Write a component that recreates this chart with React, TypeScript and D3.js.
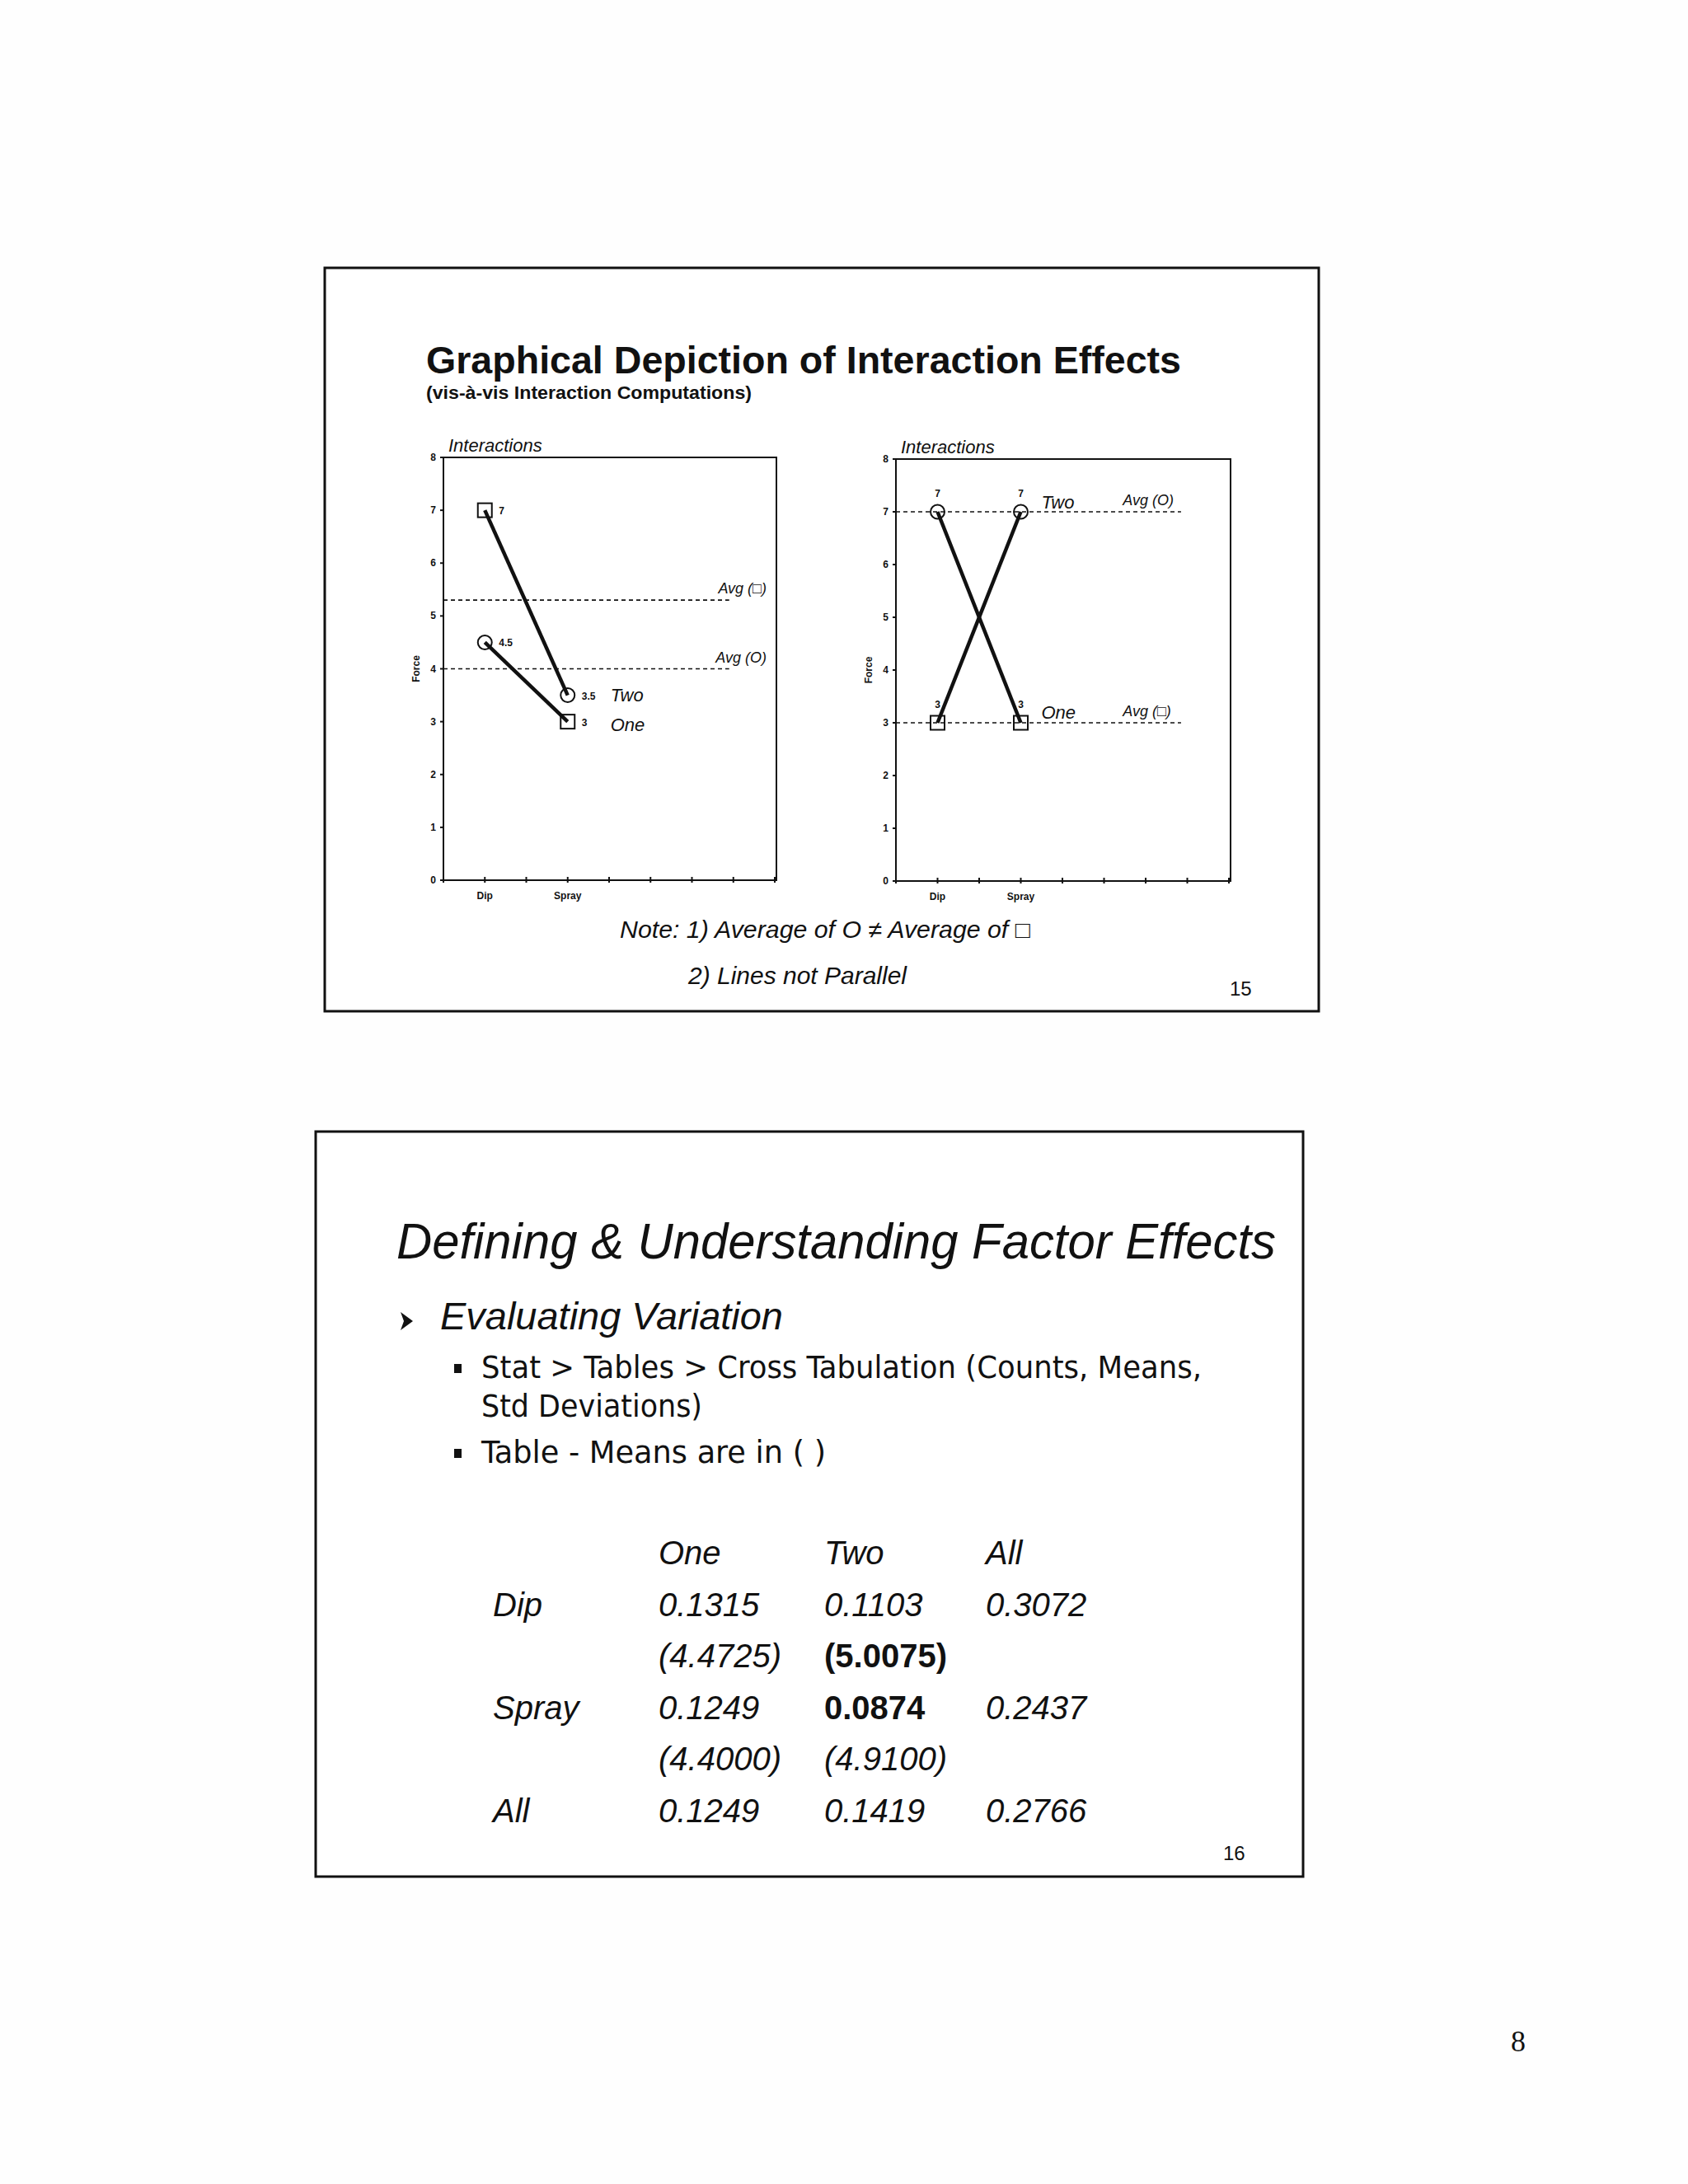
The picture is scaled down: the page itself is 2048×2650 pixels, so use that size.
import React from 'react'
import { scaleLinear, line, range } from 'd3'

const categories = ['Dip', 'Spray']
const yTicks = range(0, 9)
const xSlots = range(0, 9)

type Series = { name: string; values: number[]; shapes: string[] }
type Avg = { label: string; value: number }

// left panel: lines converge
const leftSeries: Series[] = [
  { name: 'Two', values: [7, 3.5], shapes: ['square', 'circle'] },
  { name: 'One', values: [4.5, 3], shapes: ['circle', 'square'] }
]
const leftAvgs: Avg[] = [
  { label: 'Avg (□)', value: 5.3 },
  { label: 'Avg (O)', value: 4.0 }
]

// right panel: crossing lines
const rightSeries: Series[] = [
  { name: 'One', values: [7, 3], shapes: ['circle', 'square'] },
  { name: 'Two', values: [3, 7], shapes: ['square', 'circle'] }
]
const rightAvgs: Avg[] = [
  { label: 'Avg (O)', value: 7 },
  { label: 'Avg (□)', value: 3 }
]

const notes = ['Note: 1) Average of O ≠ Average of □', '2) Lines not Parallel']

const tableCols = ['One', 'Two', 'All']
const tableRows = ['Dip', 'Spray', 'All']
const stdDevs = [
  ['0.1315', '0.1103', '0.3072'],
  ['0.1249', '0.0874', '0.2437'],
  ['0.1249', '0.1419', '0.2766']
]
const means = [
  ['(4.4725)', '(5.0075)'],
  ['(4.4000)', '(4.9100)']
]
const boldCells = ['0.0874', '(5.0075)']

const SANS = 'Liberation Sans, Arial, Helvetica, sans-serif'
const BULLET_FONT = 'DejaVu Sans Condensed, DejaVu Sans, sans-serif'

type ChartCfg = {
  left: number
  right: number
  top: number
  bottom: number
  series: Series[]
  avgs: Avg[]
  labelMode: 'right' | 'above'
  avgEnd: number
  avgLabelX: number
  avgLabelAnchor: 'start' | 'end'
  nameDx: number
  nameDy: number[]
}

const Marker: React.FC<{ shape: string; cx: number; cy: number }> = ({ shape, cx, cy }) =>
  shape === 'square' ? (
    <rect x={cx - 8.5} y={cy - 8.5} width={17} height={17} fill="none" stroke="#111" strokeWidth={2} />
  ) : (
    <circle cx={cx} cy={cy} r={8.5} fill="none" stroke="#111" strokeWidth={2} />
  )

const Chart: React.FC<{ cfg: ChartCfg }> = ({ cfg }) => {
  const x = scaleLinear().domain([0, 8]).range([cfg.left, cfg.right])
  const y = scaleLinear().domain([0, 8]).range([cfg.bottom, cfg.top])
  const slot = (i: number) => x(i * 2 + 1)
  const path = line<number>()
    .x((_, i) => slot(i))
    .y((d) => y(d))

  return (
    <g fontFamily={SANS} fill="#111">
      <text x={cfg.left + 6} y={cfg.top - 7} fontSize={22} fontStyle="italic">
        Interactions
      </text>
      <rect
        x={cfg.left}
        y={cfg.top}
        width={cfg.right - cfg.left + 2}
        height={cfg.bottom - cfg.top}
        fill="none"
        stroke="#111"
        strokeWidth={2}
      />
      <g className="y-axis">
        {yTicks.map((t) => (
          <g key={t}>
            <line x1={cfg.left - 4} x2={cfg.left} y1={y(t)} y2={y(t)} stroke="#111" strokeWidth={2} />
            <text x={cfg.left - 9} y={y(t) + 4} fontSize={12} fontWeight="bold" textAnchor="end">
              {t}
            </text>
          </g>
        ))}
        <text
          transform={`translate(${cfg.left - 29}, ${y(4)}) rotate(-90)`}
          fontSize={12}
          fontWeight="bold"
          textAnchor="middle"
        >
          Force
        </text>
      </g>
      <g className="x-axis">
        {xSlots.map((s) => (
          <line key={s} x1={x(s)} x2={x(s)} y1={cfg.bottom - 4} y2={cfg.bottom + 3} stroke="#111" strokeWidth={2} />
        ))}
        {categories.map((c, i) => (
          <text key={c} x={slot(i)} y={cfg.bottom + 23} fontSize={12} fontWeight="bold" textAnchor="middle">
            {c}
          </text>
        ))}
      </g>
      <g className="avgs">
        {cfg.avgs.map((a) => (
          <g key={a.label}>
            <line
              x1={x(0)}
              x2={x(cfg.avgEnd)}
              y1={y(a.value)}
              y2={y(a.value)}
              stroke="#111"
              strokeWidth={1.6}
              strokeDasharray="5 4"
            />
            <text
              x={x(cfg.avgLabelX)}
              y={y(a.value) - 8}
              fontSize={18}
              fontStyle="italic"
              textAnchor={cfg.avgLabelAnchor}
            >
              {a.label}
            </text>
          </g>
        ))}
      </g>
      <g className="series">
        {cfg.series.map((s, si) => (
          <g key={s.name}>
            <path d={path(s.values) || ''} fill="none" stroke="#111" strokeWidth={4.5} />
            {s.values.map((v, i) => (
              <g key={i}>
                <Marker shape={s.shapes[i]} cx={slot(i)} cy={y(v)} />
                {cfg.labelMode === 'right' ? (
                  <text x={slot(i) + 17} y={y(v) + 5} fontSize={12} fontWeight="bold">
                    {v}
                  </text>
                ) : (
                  <text x={slot(i)} y={y(v) - 18} fontSize={12} fontWeight="bold" textAnchor="middle">
                    {v}
                  </text>
                )}
              </g>
            ))}
            <text
              x={slot(s.values.length - 1) + cfg.nameDx}
              y={y(s.values[s.values.length - 1]) + cfg.nameDy[si]}
              fontSize={22}
              fontStyle="italic"
            >
              {s.name}
            </text>
          </g>
        ))}
      </g>
    </g>
  )
}

const leftCfg: ChartCfg = {
  left: 538,
  right: 940,
  top: 555,
  bottom: 1068,
  series: leftSeries,
  avgs: leftAvgs,
  labelMode: 'right',
  avgEnd: 6.9,
  avgLabelX: 7.8,
  avgLabelAnchor: 'end',
  nameDx: 52,
  nameDy: [7, 11]
}

const rightCfg: ChartCfg = {
  left: 1087,
  right: 1491,
  top: 557,
  bottom: 1069,
  series: rightSeries,
  avgs: rightAvgs,
  labelMode: 'above',
  avgEnd: 6.85,
  avgLabelX: 5.45,
  avgLabelAnchor: 'start',
  nameDx: 25,
  nameDy: [-5, -4]
}

const colX = [799, 1000, 1196]

const App: React.FC = () => {
  // table lines: header, then for each row the std dev line and (optionally) the means line
  const rowLines: { label: string; cells: string[] }[] = [{ label: '', cells: tableCols }]
  tableRows.forEach((r, i) => {
    rowLines.push({ label: r, cells: stdDevs[i] })
    if (means[i]) rowLines.push({ label: '', cells: means[i] })
  })

  return (
    <svg
      width={2048}
      height={2650}
      style={{ position: 'absolute', left: 0, top: 0, background: '#fefefe' }}
      fontFamily={SANS}
    >
      <rect width={2048} height={2650} fill="#fefefe" />

      {/* slide 15 */}
      <rect x={394} y={325} width={1206} height={902} fill="#fff" stroke="#111" strokeWidth={3} />
      <text x={517} y={453} fontSize={46} fontWeight="bold" fill="#111" textLength={916} lengthAdjust="spacingAndGlyphs">
        Graphical Depiction of Interaction Effects
      </text>
      <text x={517} y={484} fontSize={22} fontWeight="bold" fill="#111" textLength={395} lengthAdjust="spacingAndGlyphs">
        (vis-à-vis Interaction Computations)
      </text>
      <Chart cfg={leftCfg} />
      <Chart cfg={rightCfg} />
      <text x={752} y={1138} fontSize={29} fontStyle="italic" fill="#111" textLength={498} lengthAdjust="spacingAndGlyphs">
        {notes[0]}
      </text>
      <text x={835} y={1194} fontSize={29} fontStyle="italic" fill="#111" textLength={265} lengthAdjust="spacingAndGlyphs">
        {notes[1]}
      </text>
      <text x={1492} y={1208} fontSize={24} fill="#111">
        15
      </text>

      {/* slide 16 */}
      <rect x={383} y={1373} width={1198} height={904} fill="#fff" stroke="#111" strokeWidth={3} />
      <text x={481} y={1527} fontSize={62} fontStyle="italic" fill="#111" textLength={1067} lengthAdjust="spacingAndGlyphs">
        Defining &amp; Understanding Factor Effects
      </text>
      <path d="M 486 1592 L 501 1603 L 486 1614 L 490 1603 Z" fill="#111" />
      <text x={534} y={1613} fontSize={46} fontStyle="italic" fill="#111" textLength={416} lengthAdjust="spacingAndGlyphs">
        Evaluating Variation
      </text>
      <rect x={551} y={1655} width={9} height={11} fill="#111" />
      <text x={584} y={1672} fontSize={37} fill="#111" fontFamily={BULLET_FONT} textLength={874} lengthAdjust="spacingAndGlyphs">
        Stat &gt; Tables &gt; Cross Tabulation (Counts, Means,
      </text>
      <text x={584} y={1719} fontSize={37} fill="#111" fontFamily={BULLET_FONT} textLength={268} lengthAdjust="spacingAndGlyphs">
        Std Deviations)
      </text>
      <rect x={551} y={1758} width={9} height={11} fill="#111" />
      <text x={584} y={1775} fontSize={37} fill="#111" fontFamily={BULLET_FONT} textLength={418} lengthAdjust="spacingAndGlyphs">
        Table - Means are in ( )
      </text>

      <g className="table" fill="#111" fontSize={40}>
        {rowLines.map((r, ri) => {
          const baseY = 1898 + ri * 62.6
          return (
            <g key={ri}>
              {r.label && (
                <text x={598} y={baseY} fontStyle="italic">
                  {r.label}
                </text>
              )}
              {r.cells.map((c, ci) => {
                const bold = boldCells.includes(c)
                return (
                  <text
                    key={ci}
                    x={colX[ci]}
                    y={baseY}
                    fontStyle={bold ? 'normal' : 'italic'}
                    fontWeight={bold ? 'bold' : 'normal'}
                  >
                    {c}
                  </text>
                )
              })}
            </g>
          )
        })}
      </g>
      <text x={1484} y={2257} fontSize={24} fill="#111">
        16
      </text>

      <text x={1833} y={2489} fontSize={36} fill="#111" fontFamily="Liberation Serif, Times New Roman, serif">
        8
      </text>
    </svg>
  )
}

export default App
